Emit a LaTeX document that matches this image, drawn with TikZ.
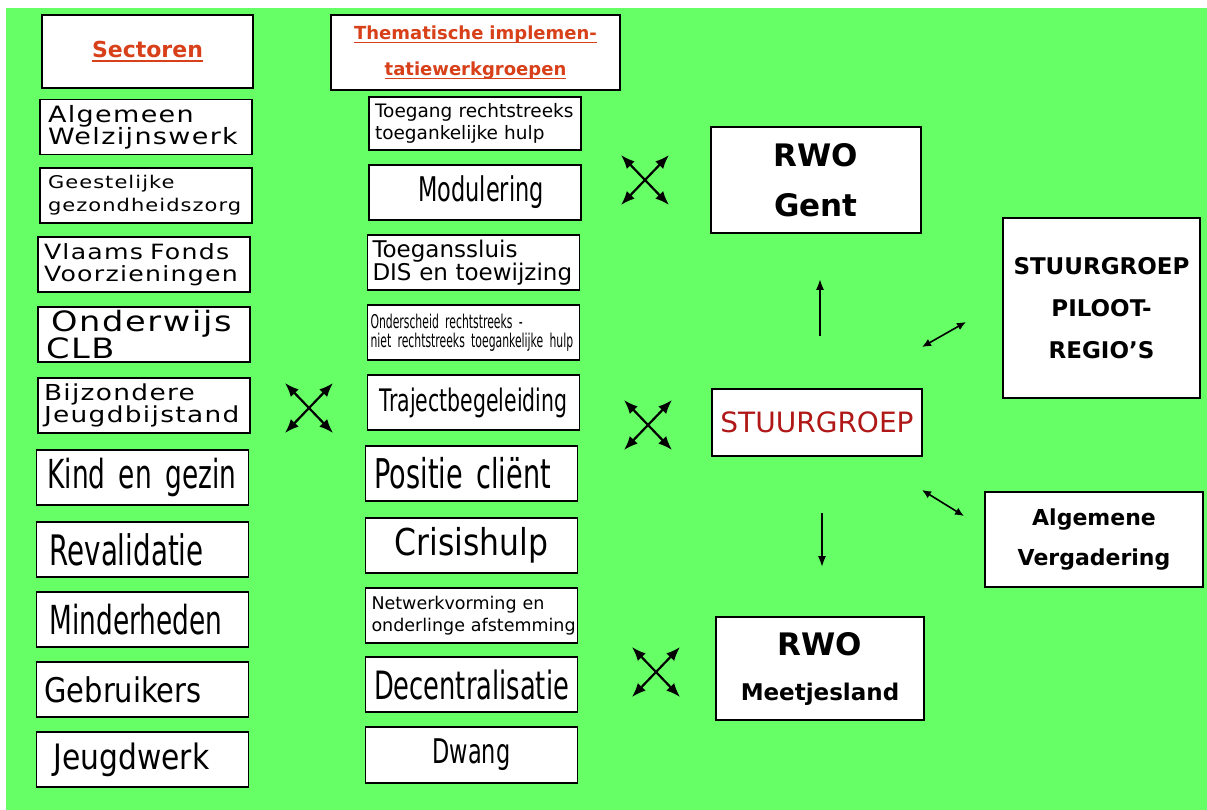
\documentclass[tikz,border=0pt]{standalone}
\usepackage{fontspec}
\setmainfont{DejaVu Sans}[WordSpace=1.2]
\newfontfamily\widefont[LetterSpace=6,FakeStretch=1.2,WordSpace=1.8]{DejaVu Sans}
\newfontfamily\midfont[FakeStretch=0.85,WordSpace=1.4]{DejaVu Sans}
\newfontfamily\condfont[FakeStretch=0.66,WordSpace=1.5]{DejaVu Sans}
\newfontfamily\tinyfont[FakeStretch=0.57,WordSpace=1.0]{DejaVu Sans}
\usepackage{tikz}
\usetikzlibrary{arrows.meta,positioning}
\definecolor{bggreen}{HTML}{66FF66}
\definecolor{titlered}{HTML}{D8401A}
\definecolor{stuurred}{HTML}{B01818}
\newcommand{\fsz}[2]{\fontsize{#1}{#2}\selectfont}
\newcommand{\titleline}[1]{{\setbox0\hbox{#1}\leavevmode\rlap{\rule[-4pt]{\wd0}{1.6pt}}\box0}}
\tikzset{box/.style={draw=black, line width=1.8pt, fill=white, inner sep=0pt,
    minimum width=212pt, minimum height=55pt, text width=200pt},
  crossarrow/.style={{Latex[length=14pt,width=11pt]}-{Latex[length=14pt,width=11pt]}, line width=2.2pt},
  smallarrow/.style={{Latex[length=9pt,width=8pt]}-{Latex[length=9pt,width=8pt]}, line width=1.6pt},
  onearrow/.style={-{Latex[length=11pt,width=8pt]}, line width=1.8pt}}

\begin{document}
\begin{tikzpicture}[x=1pt,y=-1pt]
\fill[white] (0,0) rectangle (1207,810);
\fill[bggreen] (6,8) rectangle (1207,810);
\useasboundingbox (0,0) rectangle (1207,810);

% sectoren
\node[box, minimum width=211pt, minimum height=73pt, align=center, text=titlered, font=\bfseries\fsz{22}{26}] (sect) at (147.5,51.5) {\titleline{Sectoren}};
\node[box, align=left, font=\widefont\fsz{22.5}{22}] (awel) at (146,127) {\hspace*{2pt}Algemeen\\\hspace*{2pt}Welzijnswerk};
\node[box, align=left, font=\widefont\fsz{17.5}{23}] (ggz) at (146,195.5) {\hspace*{2pt}Geestelijke\\\hspace*{2pt}gezondheidszorg};
\node[box, align=left, font=\widefont\fsz{21}{22}] (vfv) at (144,264.5) {Vlaams Fonds\\Voorzieningen};
\node[box, align=left, font=\widefont\fsz{28}{22}] (clb) at (144,334.5) {\hspace*{7pt}Onderwijs\\\hspace*{2pt}CLB};
\node[box, align=left, font=\widefont\fsz{22}{21}] (bjb) at (144,405.5) {Bijzondere\\Jeugdbijstand};
\node[box, align=left, font=\condfont\fsz{40}{44}] (keg) at (142.5,477.5) {\hspace*{5pt}Kind en gezin};
\node[box, align=left, font=\condfont\fsz{42}{44}] (reval) at (142.5,549.5) {\hspace*{7pt}Revalidatie};
\node[box, align=left, font=\condfont\fsz{40}{44}] (minder) at (142.5,619.5) {\hspace*{7pt}Minderheden};
\node[box, align=left, font=\midfont\fsz{34}{40}] (gebr) at (142.5,689.5) {\hspace*{2pt}Gebruikers};
\node[box, align=left, font=\midfont\fsz{35}{40}] (jwerk) at (142.5,759.5) {\hspace*{11pt}Jeugdwerk};

% werkgroepen
\node[box, minimum width=289pt, minimum height=75pt, text width=280pt, align=center, text=titlered, font=\bfseries\fsz{18}{36}] (them) at (475.5,52.5) {\titleline{Thematische implemen-}\\\titleline{tatiewerkgroepen}};
\node[box, minimum height=53pt, text width=208pt, align=left, font=\fsz{18.5}{22}] (toeg) at (475,123.5) {\hspace*{4pt}Toegang rechtstreeks\\\hspace*{4pt}toegankelijke hulp};
\node[box, align=center, font=\condfont\fsz{34}{40}] (modul) at (475,192.5) {\hspace*{12pt}Modulering};
\node[box, text width=208pt, align=left, font=\fsz{23}{22}] (sluis) at (473.5,262.5) {\hspace*{3pt}Toeganssluis\\\hspace*{3pt}DIS en toewijzing};
\node[box, text width=206pt, align=left, font=\tinyfont\fsz{19}{19}] (onder) at (473.5,332.5) {Onderscheid rechtstreeks -\\niet rechtstreeks toegankelijke hulp};
\node[box, align=center, font=\condfont\fsz{31}{40}] (traject) at (473.5,402.5) {Trajectbegeleiding};
\node[box, align=left, font=\condfont\fsz{41}{44}] (pos) at (471.5,473.5) {\hspace*{3pt}Positie cliënt};
\node[box, align=center, font=\midfont\fsz{37}{40}] (crisis) at (471.5,545.5) {Crisishulp};
\node[box, text width=210pt, align=left, font=\fsz{17.5}{22}] (netw) at (471.5,615.5) {\hspace*{5pt}Netwerkvorming en\\\hspace*{5pt}onderlinge afstemming};
\node[box, align=center, font=\condfont\fsz{39}{44}] (decen) at (471.5,684.5) {Decentralisatie};
\node[box, minimum height=56pt, align=center, font=\condfont\fsz{34}{40}] (dwang) at (471.5,755) {Dwang};

% rechts
\node[box, minimum width=210pt, minimum height=106pt, align=center, font=\bfseries\fsz{31}{50}] (gent) at (816,180) {RWO\\Gent};
\node[box, minimum width=210pt, minimum height=67pt, align=center, text=stuurred, font=\fsz{28}{30}] (stuur) at (817,422.5) {STUURGROEP};
\node[box, minimum width=208pt, minimum height=103pt, align=center, font=\bfseries\fsz{23}{45}] (meet) at (820,668.5) {{\fsz{31}{45}RWO}\\Meetjesland};
\node[box, minimum width=197pt, minimum height=180pt, text width=190pt, align=center, font=\bfseries\fsz{23}{42}] (piloot) at (1101.5,308) {STUURGROEP\\PILOOT-\\REGIO'S};
\node[box, minimum width=218pt, minimum height=95pt, align=center, font=\bfseries\fsz{22}{40}] (algv) at (1094,539.5) {Algemene\\Vergadering};

\coordinate (c1) at (309,408);
\coordinate (c2) at (645,180);
\coordinate (c3) at (648,425);
\coordinate (c4) at (656,672);
\draw[crossarrow] ([shift={(-24,-25)}]c1) -- ([shift={(24,25)}]c1);
\draw[crossarrow] ([shift={(-24,25)}]c1) -- ([shift={(24,-25)}]c1);
\draw[crossarrow] ([shift={(-24,-25)}]c2) -- ([shift={(24,25)}]c2);
\draw[crossarrow] ([shift={(-24,25)}]c2) -- ([shift={(24,-25)}]c2);
\draw[crossarrow] ([shift={(-24,-25)}]c3) -- ([shift={(24,25)}]c3);
\draw[crossarrow] ([shift={(-24,25)}]c3) -- ([shift={(24,-25)}]c3);
\draw[crossarrow] ([shift={(-24,-25)}]c4) -- ([shift={(24,25)}]c4);
\draw[crossarrow] ([shift={(-24,25)}]c4) -- ([shift={(24,-25)}]c4);

\draw[onearrow, shorten <=52pt, shorten >=45pt] ([xshift=3pt]stuur.north) -- ([xshift=4pt]gent.south);
\draw[onearrow, shorten <=56pt, shorten >=49pt] ([xshift=5pt]stuur.south) -- ([xshift=2pt]meet.north);

\coordinate (p1) at (922,347);
\coordinate (p2) at (966,322);
\coordinate (a1) at (922,490);
\coordinate (a2) at (964,516);
\draw[smallarrow] (p1) -- (p2);
\draw[smallarrow] (a1) -- (a2);
%\draw[smallarrow] (stuur.east) -- (piloot.west);

\end{tikzpicture}
\end{document}
